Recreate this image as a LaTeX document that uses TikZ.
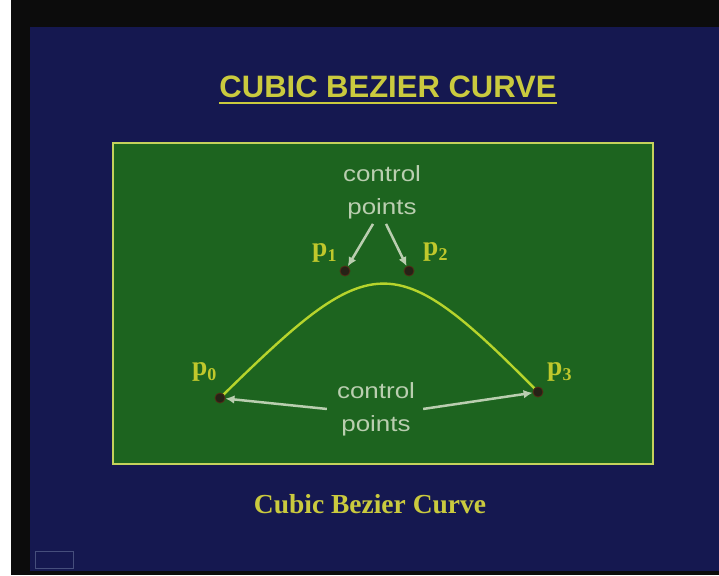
\documentclass[tikz,border=0pt]{standalone}
\usepackage{fontspec}
\setmainfont{Liberation Serif}
\newfontfamily\slidesans{Liberation Sans}
\newfontfamily\notefont[FakeStretch=1.18]{Liberation Sans}
\usetikzlibrary{calc,positioning,arrows.meta}
\definecolor{slideblue}{RGB}{21,24,80}
\definecolor{slideblack}{RGB}{12,12,12}
\definecolor{panelgreen}{RGB}{29,100,31}
\definecolor{paneledge}{RGB}{196,210,92}
\definecolor{titleyellow}{RGB}{202,202,62}
\definecolor{labelyellow}{RGB}{192,200,44}
\definecolor{curvegreen}{RGB}{182,212,44}
\definecolor{notegray}{RGB}{186,206,176}
\definecolor{ptfill}{RGB}{38,34,22}
\definecolor{ptedge}{RGB}{82,44,22}
\definecolor{iconblue}{RGB}{70,78,124}
\newcommand{\ctrlarrowstyle}{-{Latex[length=3.2mm,width=3mm]}}
\newcommand{\pname}[1]{p\raisebox{-5pt}{\fontsize{18}{18}\selectfont #1}}

\begin{document}
\begin{tikzpicture}[
    x=1pt, y=-1pt,
    ctrl/.style={circle, draw=ptedge, fill=ptfill, line width=0.8pt, minimum size=10pt, inner sep=0pt},
    plabel/.style={text=labelyellow, font=\fontsize{27.5}{27.5}\selectfont\bfseries, inner sep=0pt, anchor=base west},
    note/.style={text=notegray, font=\notefont\fontsize{22}{33}\selectfont, align=center, inner sep=0pt, anchor=north},
    arr/.style={draw=notegray, line width=2.5pt, \ctrlarrowstyle},
    bez/.style={draw=curvegreen, line width=2.4pt, line cap=round}
]
  \useasboundingbox (0,0) rectangle (719,575);
  \fill[white] (0,0) rectangle (719,575);
  \fill[slideblack] (11,0) rectangle (719,575);
  \fill[slideblue] (30,27) rectangle (719,571);
  \draw[iconblue, line width=0.8pt] (35,551) rectangle (73,568);

  \node[text=titleyellow, font=\slidesans\fontsize{31}{31}\selectfont\bfseries,
        inner sep=0pt, anchor=base] (title) at (388,98) {CUBIC BEZIER CURVE};
  \draw[titleyellow, line width=2.8pt] ($(title.base west)+(0,5)$) -- ($(title.base east)+(0,5)$);

  \draw[fill=panelgreen, draw=paneledge, line width=2.6pt] (113,143) rectangle (653,464);

  \coordinate (q0) at (220,398);
  \coordinate (q1) at (345,271);
  \coordinate (q2) at (409,271);
  \coordinate (q3) at (538,392);
  \draw[bez] (q0) .. controls (372,249) and (392,244) .. (q3);
  \foreach \k in {0,...,3} {
    \node[ctrl] (p\k) at (q\k) {};
  }

  \node[plabel] (p1name) at (312,256) {\pname{1}};
  \node[plabel] (p2name) at (423,255) {\pname{2}};
  \node[plabel] (p0name) at (192,375) {\pname{0}};
  \node[plabel] (p3name) at (547,375) {\pname{3}};

  \node[note] (cpup) at (382,165) {control\\points};
  \node[note] (cplow) at (376,382) {control\\points};

  \draw[arr] ($(cpup.south)+(-9,5)$) -- (p1);
  \draw[arr] ($(cpup.south)+(4,5)$) -- (p2);
  \draw[arr] ($(cplow.west)+(-10,0)$) -- (p0);
  \draw[arr] ($(cplow.east)+(8,0)$) -- (p3);

  \node[text=titleyellow, font=\fontsize{27.5}{27.5}\selectfont\bfseries,
        inner sep=0pt, anchor=base] (caption) at (370,513) {Cubic Bezier Curve};
\end{tikzpicture}
\end{document}
